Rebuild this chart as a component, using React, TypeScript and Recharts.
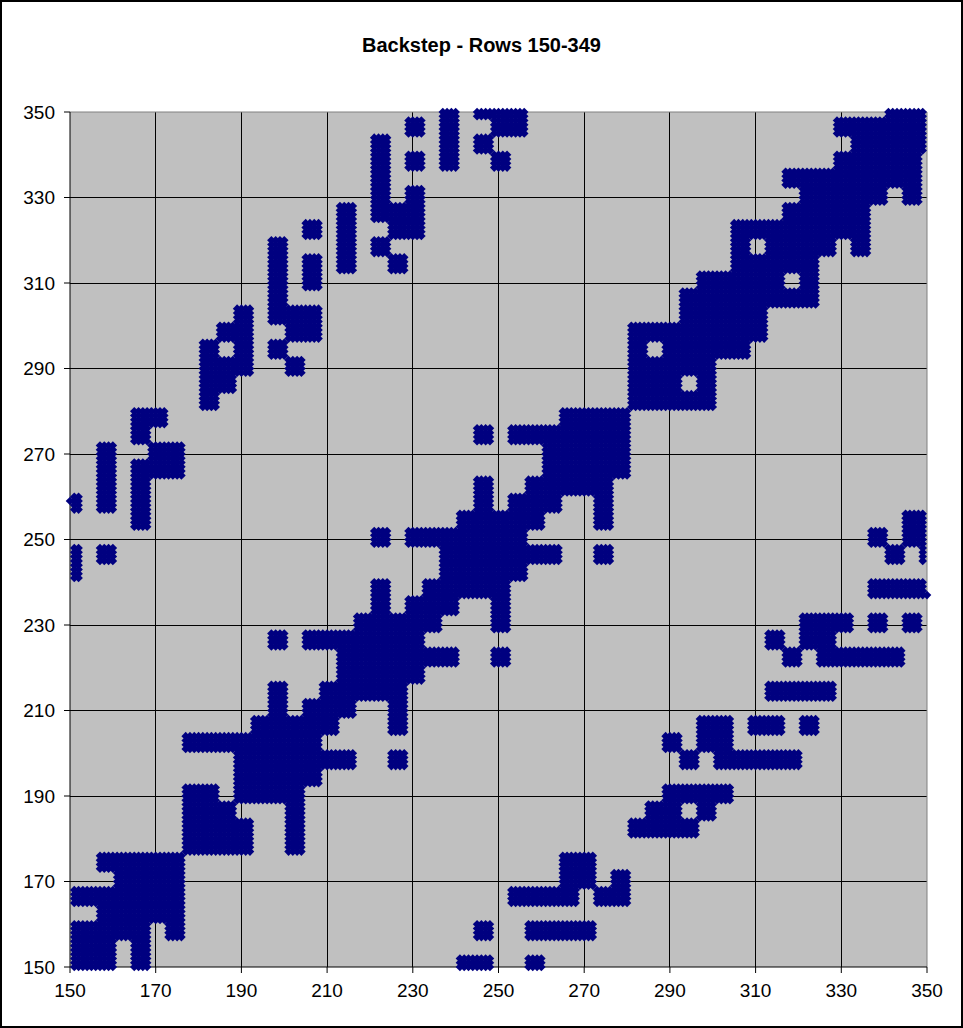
import { ScatterChart, Scatter, XAxis, YAxis, CartesianGrid, ReferenceLine } from "recharts";

const xTicks = [150, 170, 190, 210, 230, 250, 270, 290, 310, 330, 350];
const yTicks = [150, 170, 190, 210, 230, 250, 270, 290, 310, 330, 350];
const innerLines = [170, 190, 210, 230, 250, 270, 290, 310, 330];

// the picture is built from 4x4 blocks: each line is a block row (bottom up), each entry a block column or a run of them
const blockRows = [
  "0-2 4 23-24 27",
  "0-2 4",
  "0-4 6 24 27-30",
  "2-6",
  "0-6 26-29 31-32",
  "3-6 29-30 32",
  "2-6 29-30",
  "7-10 13",
  "7-10 13 33-36",
  "7-9 13 34-35 37",
  "7-8 10-13 35-38",
  "10-14",
  "10-16 19 36 38-42",
  "7-14 35 37-38",
  "11-15 19 37-38 40-41 43",
  "12 14-16 19",
  "12 15-19 41-44",
  "16-20",
  "16-22 25 42 44-48",
  "12 14-20 41 43-44",
  "17-21 25 43-45 47 49",
  "18 20-22 25",
  "18 21-25 47-50",
  "0 22-26",
  "0 2 22-28 31 48 50",
  "18 20-26 47 49-50",
  "4 23-27 31 49-50",
  "0 2 4 24 26-28 31",
  "2 4 24 27-31",
  "2 4-6 28-32",
  "2 5-6 28-32",
  "4 24 26-32",
  "4-5 29-32",
  "8 33-37",
  "8-9 33-35 37",
  "8-10 13 33-37",
  "8 10 12 33 35-39",
  "9-10 13-14 33-40",
  "10 12-14 36-40",
  "12 36-43",
  "12 14 37-41 43",
  "12 14 16 19 39-43",
  "12 16 18 39 41-44 46",
  "14 16 19-20 39-46",
  "16 18-20 42-46",
  "18 20 43-47 49",
  "18 42-49",
  "18 20 22 25 45-49",
  "18 22 24 46-50",
  "20 22 25-26 45-50",
  "22 24-26 48-50",
];

// single points that stick out past the blocks
const strayPoints = [
  { x: 150, y: 259 },
  { x: 350, y: 237 },
];

const points: { x: number; y: number }[] = [...strayPoints];
blockRows.forEach((row, r) => {
  row.split(" ").forEach((run) => {
    const [from, to] = run.split("-").map(Number);
    for (let k = from; k <= (to ?? from); k++) {
      for (let x = 149 + 4 * k; x <= 152 + 4 * k; x++) {
        for (let y = 149 + 4 * r; y <= 152 + 4 * r; y++) {
          if (x >= 151 && x <= 349 && y >= 150 && y <= 350) points.push({ x, y });
        }
      }
    }
  });
});

function Diamond({ cx, cy }: any) {
  const h = 4.3;
  return <path d={`M${cx} ${cy - h}L${cx + h} ${cy}L${cx} ${cy + h}L${cx - h} ${cy}Z`} fill="#000080" />;
}

const tickStyle = { fontSize: 19, fontFamily: "Liberation Sans", fill: "#000" };

export default function App() {
  return (
    <div style={{ position: "absolute", left: 0, top: 0, width: 963, height: 1028, boxSizing: "border-box", border: "2px solid #000", background: "#fff" }}>
      <div style={{ position: "absolute", left: -2, top: 32, width: 963, textAlign: "center", fontFamily: "Liberation Sans", fontWeight: "bold", fontSize: 20, color: "#000" }}>
        Backstep - Rows 150-349
      </div>
      <div style={{ position: "absolute", left: -1.5, top: -1.5 }}>
        <ScatterChart width={963} height={1028} margin={{ top: 111, right: 37, bottom: 0, left: 9 }}>
          <CartesianGrid fill="#C0C0C0" fillOpacity={1} stroke="#000" strokeOpacity={1} horizontalValues={innerLines} verticalValues={innerLines} shapeRendering="crispEdges" />
          <XAxis type="number" dataKey="x" domain={[150, 350]} ticks={xTicks} interval={0} tickSize={6} height={62} tick={tickStyle} stroke="#000" tickMargin={11} />
          <YAxis type="number" dataKey="y" domain={[150, 350]} ticks={yTicks} interval={0} tickSize={6} width={60} tick={tickStyle} stroke="#000" tickMargin={9} />
          <ReferenceLine y={350} stroke="#808080" />
          <ReferenceLine x={350} stroke="#808080" />
          <Scatter data={points} shape={Diamond} isAnimationActive={false} />
        </ScatterChart>
      </div>
    </div>
  );
}
